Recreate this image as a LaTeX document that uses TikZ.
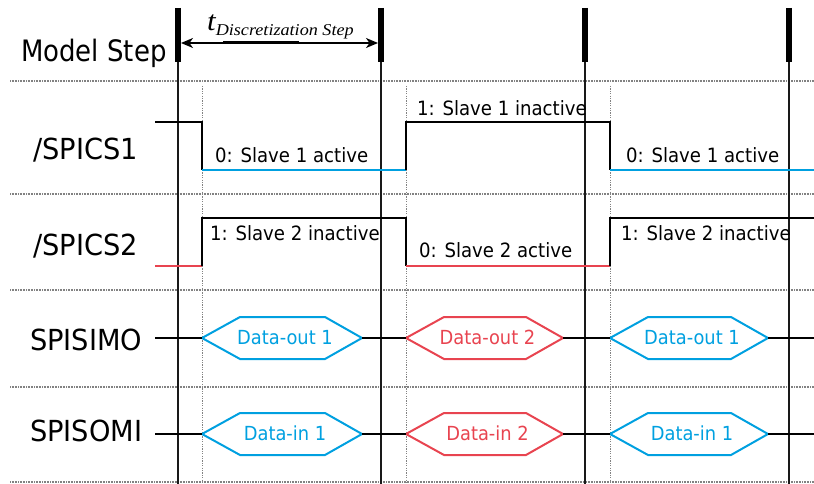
\documentclass[tikz,border=0pt]{standalone}
\usepackage{fontspec}
\usetikzlibrary{arrows.meta,calc}
\newfontfamily\dvs[FakeStretch=0.92]{DejaVu Sans}
\newfontfamily\dvw[FakeStretch=0.94]{DejaVu Sans}
\newfontfamily\dvm[FakeStretch=0.88]{DejaVu Sans}
\newfontfamily\tms[FakeStretch=1.1]{Liberation Serif}
\definecolor{sigblue}{RGB}{0,160,224}
\definecolor{sigred}{RGB}{232,68,80}
\definecolor{gridgray}{RGB}{130,130,130}
\tikzset{
  grid/.style={gridgray, line width=1.1pt, dash pattern=on 1pt off 0.6pt},
  vgrid/.style={gridgray, line width=0.7pt, dash pattern=on 1.2pt off 1.2pt},
  stepbar/.style={black, line width=6pt},
  stepline/.style={black!90, line width=2.6pt},
  sig/.style={line width=2pt, line join=miter},
  rowlbl/.style={inner sep=0pt, anchor=base west, font=\dvw\fontsize{29}{30}\selectfont},
  lvl/.style={inner sep=0pt, anchor=base west, font=\dvs\fontsize{19.7}{20}\selectfont},
  hextxt/.style={inner sep=0pt, anchor=base, font=\dvs\fontsize{19.4}{20}\selectfont},
}
\newcommand\hexa[6]{% name, xl, xr, y, color, text
  \coordinate (#1l) at (#2,#4);
  \coordinate (#1r) at (#3,#4);
  \draw[#5, line width=2pt, line join=miter] (#1l) -- ++(38,-21) -- ($(#1r)+(-37,-21)$) -- (#1r) -- ($(#1r)+(-37,21)$) -- ($(#1l)+(38,21)$) -- cycle;
  \node[hextxt, text=#5] (#1t) at ({(#2+#3)/2+3},#4+6.5) {#6};
}
\begin{document}
\begin{tikzpicture}[x=1pt,y=-1pt]
\useasboundingbox (0,0) rectangle (814,484);
% horizontal grid lines
\foreach \yy in {81,194,290,387,482} \draw[grid] (10,\yy) -- (814,\yy);
% vertical dotted lines
\foreach \xx in {202,406,610} \draw[vgrid] (\xx,86) -- (\xx,484);
% model step lines
\foreach \xx/\nm in {178/a,381/b,585/c,789/d} {
  \coordinate (top\nm) at (\xx,8);
  \coordinate (mid\nm) at (\xx,62);
  \coordinate (bot\nm) at (\xx,484);
  \draw[stepline] (mid\nm) -- (bot\nm);
  \draw[stepbar] (top\nm) -- (mid\nm);
}
% discretization arrow
\coordinate (arl) at (181,43);
\coordinate (arr) at (378,43);
\draw[line width=1.3pt, {Stealth[length=12pt,width=10pt,inset=3.5pt]}-{Stealth[length=12pt,width=10pt,inset=3.5pt]}] (arl) -- (arr);
\draw[line width=3pt] (223,43) -- (299,43);
\node[inner sep=0pt, anchor=base west] (tlbl) at (207,30.5) {\tms\itshape\fontsize{28}{28}\selectfont t\raisebox{-5.5pt}{\fontsize{16.5}{16.5}\selectfont Discretization Step}};
% labels
\node[inner sep=0pt, anchor=base west, font=\dvm\fontsize{29.5}{30}\selectfont] (ms) at (21,61.7) {Model Step};
\node[rowlbl] (cs1) at (33,160) {/SPICS1};
\node[rowlbl] (cs2) at (33,255) {/SPICS2};
\node[rowlbl] (simo) at (30,350) {SPISIMO};
\node[rowlbl] (somi) at (30,441) {SPISOMI};
% SPICS1
\draw[sig] (155,122) -- (202,122) -- (202,170);
\draw[sig, sigblue] (202,170) -- (406,170);
\draw[sig] (406,170) -- (406,122) -- (610,122) -- (610,170);
\draw[sig, sigblue] (610,170) -- (814,170);
% SPICS2
\draw[sig, sigred] (155,266) -- (202,266);
\draw[sig] (202,266) -- (202,218) -- (406,218) -- (406,266);
\draw[sig, sigred] (406,266) -- (610,266);
\draw[sig] (610,266) -- (610,218) -- (814,218);
% level labels
\node[lvl] (l1) at (215,162.7) {0: Slave 1 active};
\node[lvl] (l2) at (417,115.5) {1: Slave 1 inactive};
\node[lvl] (l3) at (626,162.7) {0: Slave 1 active};
\node[lvl] (l4) at (210,240.5) {1: Slave 2 inactive};
\node[lvl] (l5) at (419,257.5) {0: Slave 2 active};
\node[lvl] (l6) at (621,240.5) {1: Slave 2 inactive};
% SPISIMO
\coordinate (mos) at (155,338);
\coordinate (moe) at (814,338);
\hexa{mo1}{202}{362}{338}{sigblue}{Data-out 1}
\hexa{mo2}{406}{563}{338}{sigred}{Data-out 2}
\hexa{mo3}{610}{768}{338}{sigblue}{Data-out 1}
\draw[sig] (mos) -- (mo1l);
\draw[sig] (mo1r) -- (mo2l);
\draw[sig] (mo2r) -- (mo3l);
\draw[sig] (mo3r) -- (moe);
% SPISOMI
\coordinate (mis) at (155,434);
\coordinate (mie) at (814,434);
\hexa{mi1}{202}{362}{434}{sigblue}{Data-in 1}
\hexa{mi2}{406}{563}{434}{sigred}{Data-in 2}
\hexa{mi3}{610}{768}{434}{sigblue}{Data-in 1}
\draw[sig] (mis) -- (mi1l);
\draw[sig] (mi1r) -- (mi2l);
\draw[sig] (mi2r) -- (mi3l);
\draw[sig] (mi3r) -- (mie);
\end{tikzpicture}
\end{document}
